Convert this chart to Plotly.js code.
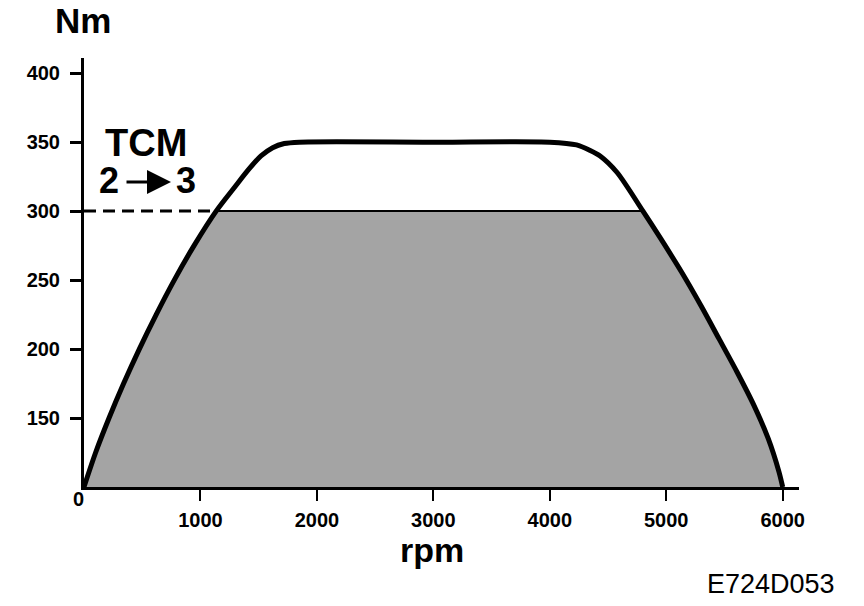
<!DOCTYPE html>
<html>
<head>
<meta charset="utf-8">
<script src="https://cdn.plot.ly/plotly-3.0.1.min.js"></script>
<style>html,body{margin:0;padding:0;background:#fff;}#chart{width:864px;height:606px;}</style>
</head>
<body>
<div id="chart"></div>
<script>
// Engine torque curve (rpm vs Nm)
const rpm = [0, 100, 215, 340, 475, 620, 775, 945, 1135, 1300, 1412, 1520, 1620, 1720, 1850, 3000, 4000, 4230, 4346, 4432, 4578, 4800, 4953, 5130, 5301, 5456, 5610, 5754, 5876, 5968, 6000];
const torqueNm = [100, 125, 150, 175, 200, 225, 250, 275, 300, 318, 330, 340, 346, 349, 350, 350, 350, 348, 344, 340, 328, 300, 280, 256, 231, 207, 183, 159, 135, 111, 100];
const tcmLimitNm = 300;
const xTickVals = [1000, 2000, 3000, 4000, 5000, 6000];
const xTickText = ["1000", "2000", "3000", "4000", "5000", "6000"];
const yTickVals = [150, 200, 250, 300, 350, 400];
const yTickText = ["150", "200", "250", "300", "350", "400"];

const limited = torqueNm.map(v => Math.min(v, tcmLimitNm));
const firstCross = rpm[torqueNm.findIndex(v => v >= tcmLimitNm)];

const FONT = "Liberation Sans, Arial, Helvetica, sans-serif";
const L = 84, R = 799, T = 58, B = 487;
const px = x => (x - L) / (R - L);
const py = y => (B - y) / (B - T);

const traces = [
  {x: rpm, y: limited, type: 'scatter', mode: 'lines', fill: 'tozeroy',
   fillcolor: '#a4a4a4', line: {color: '#000', width: 2}, hoverinfo: 'skip'},
  {x: [0, firstCross], y: [tcmLimitNm, tcmLimitNm], type: 'scatter', mode: 'lines',
   line: {color: '#000', width: 3, dash: '12px,7px'}, hoverinfo: 'skip'},
  {x: rpm, y: torqueNm, type: 'scatter', mode: 'lines',
   line: {color: '#000', width: 5, shape: 'spline', smoothing: 0.8}, hoverinfo: 'skip'}
];

const ann = (text, x, y, size, weight, extra) => Object.assign({
  text: text, xref: 'paper', yref: 'paper', x: px(x), y: py(y),
  xanchor: 'center', yanchor: 'middle', showarrow: false,
  font: {family: FONT, size: size, color: '#000', weight: weight}
}, extra || {});

const layout = {
  width: 864, height: 606,
  margin: {l: L, r: 864 - R, t: T, b: 606 - B, pad: 0},
  paper_bgcolor: '#fff', plot_bgcolor: '#fff',
  showlegend: false,
  xaxis: {range: [0, 6140], showline: true, linecolor: '#000', linewidth: 3,
    ticks: 'outside', ticklen: 11, tickwidth: 2, tickcolor: '#000',
    tickvals: xTickVals, ticktext: xTickText, showgrid: false, zeroline: false,
    ticklabelstandoff: 2,
    tickfont: {family: FONT, size: 20, color: '#000', weight: 'bold'}},
  yaxis: {range: [100, 411], showline: true, linecolor: '#000', linewidth: 3,
    ticks: 'outside', ticklen: 11, tickwidth: 3, tickcolor: '#000',
    tickvals: yTickVals, ticktext: yTickText, showgrid: false, zeroline: false,
    ticklabelstandoff: 6,
    tickfont: {family: FONT, size: 20, color: '#000', weight: 'bold'}},
  annotations: [
    ann('Nm', 83, 21, 35, 'bold'),
    ann('rpm', 432, 550, 34, 'bold'),
    ann('0', 78, 499, 20, 'bold'),
    ann('TCM', 146, 143, 38, 'bold'),
    ann('2', 109, 181, 36, 'bold'),
    ann('3', 186, 181, 36, 'bold'),
    {text: '', xref: 'paper', yref: 'paper', x: px(171), y: py(182),
     axref: 'pixel', ayref: 'pixel', ax: -46, ay: 0, showarrow: true,
     arrowhead: 2, arrowsize: 1.6, arrowwidth: 3, arrowcolor: '#000'},
    ann('E724D053', 771, 584, 27, 'normal')
  ]
};

Plotly.newPlot('chart', traces, layout, {displayModeBar: false, staticPlot: true});
</script>
</body>
</html>
